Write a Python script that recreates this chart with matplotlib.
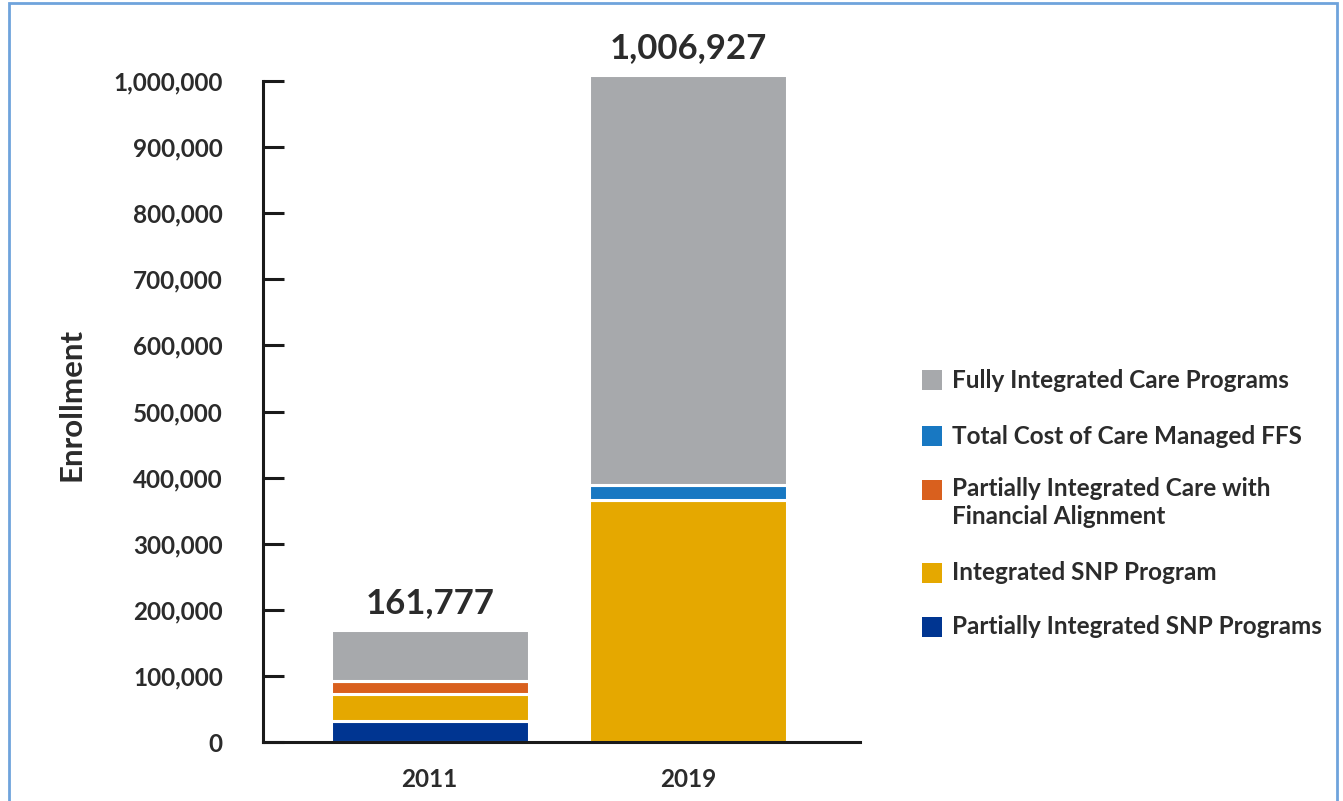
import matplotlib
matplotlib.use("Agg")
import matplotlib.pyplot as plt
from matplotlib.patches import Rectangle

plt.rcParams['font.family'] = ['Lato', 'DejaVu Sans']

# data
years = ['2011', '2019']
totals = [161777, 1006927]
series_names = ['Partially Integrated SNP Programs',
                'Integrated SNP Program',
                'Partially Integrated Care with\nFinancial Alignment',
                'Total Cost of Care Managed FFS',
                'Fully Integrated Care Programs']
partial_snp = [32500, 0]
integrated_snp = [40000, 366300]
partial_fin = [19200, 0]
tcoc_ffs = [0, 22400]
fully_integrated = [77500, 620400]
colors = ['#003591', '#E5A800', '#D9601E', '#1878C2', '#A7A9AC']
yticks = [0, 100000, 200000, 300000, 400000, 500000,
          600000, 700000, 800000, 900000, 1000000]

text_col = '#2B2B2B'

fig = plt.figure(figsize=(13.43, 8.01), dpi=100)
fig.patch.set_facecolor('white')
ax = fig.add_axes([263/1343, 1-742/801, 597/1343, 661/801])

series = [partial_snp, integrated_snp, partial_fin, tcoc_ffs, fully_integrated]
x = [0, 1]
bottom = [0, 0]
for vals, c in zip(series, colors):
    ax.bar(x, vals, width=0.766, bottom=bottom, color=c,
           edgecolor='white', linewidth=2.2, clip_on=False, zorder=2)
    bottom = [b + v for b, v in zip(bottom, vals)]

# total labels above the bars
for xi, top, tot in zip(x, bottom, totals):
    ax.annotate(f'{tot:,}', xy=(xi, top), xytext=(0, 12),
                textcoords='offset points', ha='center', va='baseline',
                fontsize=25, fontweight='bold', color=text_col,
                annotation_clip=False)

ax.set_xlim(-0.646, 1.667)
ax.set_ylim(0, 1000000)
ax.set_yticks(yticks)
ax.set_yticklabels([f'{t:,}' for t in yticks])
ax.set_xticks(x)
ax.set_xticklabels(years)

for s in ['top', 'right']:
    ax.spines[s].set_visible(False)
for s in ['left', 'bottom']:
    ax.spines[s].set_linewidth(2.2)
    ax.spines[s].set_color('#1A1A1A')

ax.tick_params(axis='y', direction='in', length=15, width=2.2,
               color='#1A1A1A', pad=29, labelsize=17.5, labelcolor=text_col)
ax.tick_params(axis='x', length=0, pad=19, labelsize=17.5, labelcolor=text_col)
for lab in ax.get_xticklabels() + ax.get_yticklabels():
    lab.set_fontweight('bold')

ax.set_ylabel('Enrollment', fontsize=22.5, fontweight='bold', color=text_col)
ax.yaxis.set_label_coords(-0.298, 0.51)

# legend drawn by hand so the two-line entry lines up like the original
leg_order = [4, 3, 2, 1, 0]
leg_y = [380, 436, 490, 573, 627]
for i, yy in zip(leg_order, leg_y):
    fig.patches.append(Rectangle((922/1343, 1-(yy+10)/801), 20/1343, 20/801,
                                 transform=fig.transFigure,
                                 facecolor=colors[i], edgecolor='none'))
    if '\n' in series_names[i]:
        fig.text(952/1343, 1-(yy-13)/801, series_names[i], fontsize=17.5,
                 fontweight='bold', color=text_col, va='top', linespacing=1.25)
    else:
        fig.text(952/1343, 1-yy/801, series_names[i], fontsize=17.5,
                 fontweight='bold', color=text_col, va='center')

# blue frame around the chart
fig.patches.append(Rectangle((9/1343, -0.05), 1328/1343, 1-3/801+0.05,
                             transform=fig.transFigure, fill=False,
                             edgecolor='#6FA3DC', linewidth=2))

fig.savefig('out.png', dpi=100)
